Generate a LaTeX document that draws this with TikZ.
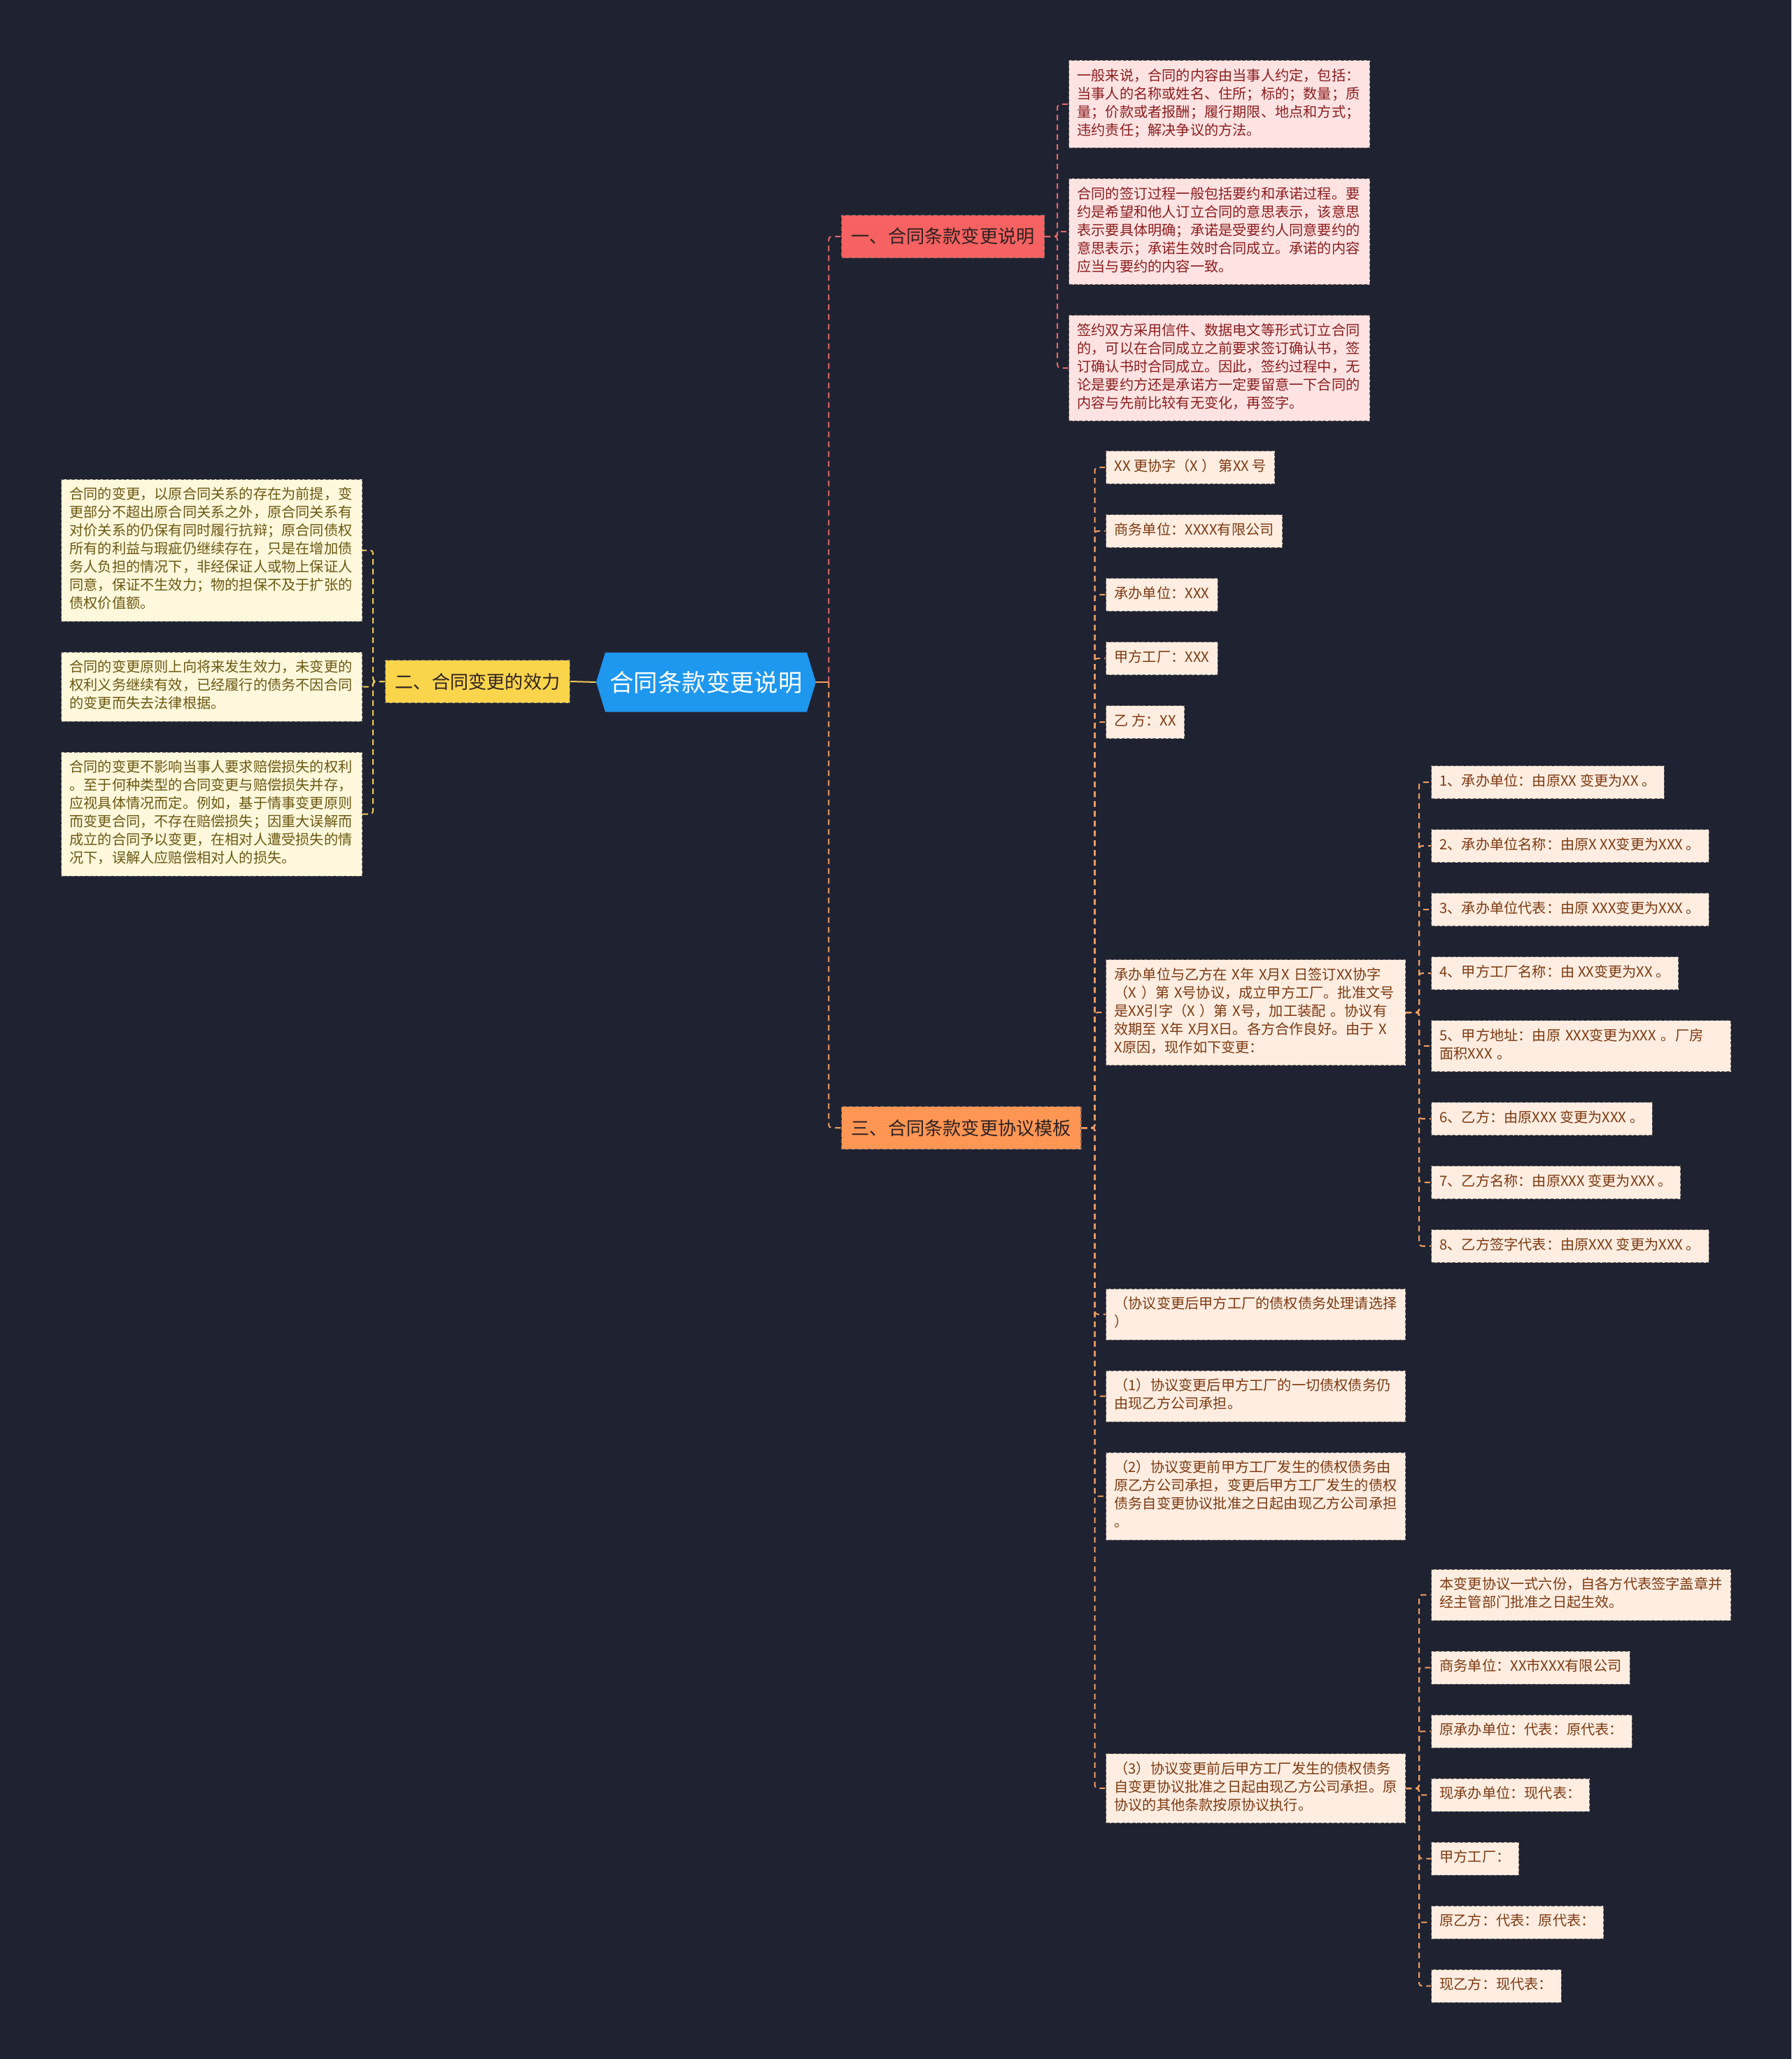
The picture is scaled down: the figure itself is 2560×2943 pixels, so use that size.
\documentclass[tikz,border=0pt]{standalone}
\usepackage{fontspec}
\setmainfont{Noto Sans CJK SC}
\usetikzlibrary{positioning,shapes.symbols}
\definecolor{bgnavy}{HTML}{1F2231}
\definecolor{rootblue}{HTML}{1E97EF}
\definecolor{topicred}{HTML}{F66161}
\definecolor{topicyel}{HTML}{FAD44B}
\definecolor{topicorg}{HTML}{FF9654}
\definecolor{topictxt}{HTML}{2E2222}
\definecolor{pinkfill}{HTML}{FFE3E3}
\definecolor{pinktxt}{HTML}{8B1E1E}
\definecolor{creamfill}{HTML}{FFF8DC}
\definecolor{creamtxt}{HTML}{6B5812}
\definecolor{peachfill}{HTML}{FFEDE1}
\definecolor{peachtxt}{HTML}{7C3A12}
\definecolor{edgegrey}{HTML}{6F6763}
\definecolor{linered}{HTML}{E36767}
\definecolor{lineyel}{HTML}{EFCB55}
\definecolor{lineorg}{HTML}{F2A061}

\begin{document}
\begin{tikzpicture}[x=0.5pt, y=-0.5pt,
  root/.style={signal, signal to=east and west, signal pointer angle=146, fill=rootblue, text=white, font=\fontsize{17.2}{20}\selectfont, minimum width=157pt, minimum height=42.5pt, inner sep=0pt},
  topic/.style={fill=#1, draw=edgegrey, dash pattern=on 3pt off 1.5pt, line width=0.6pt, text=topictxt, font=\fontsize{13.1}{16}\selectfont, inner xsep=7pt, inner ysep=0pt, minimum height=30.5pt},
  leaf/.style={draw=edgegrey, dash pattern=on 2.5pt off 1.2pt, line width=0.5pt, font=\fontsize{10.1}{13}\selectfont, align=left, inner xsep=6pt, inner ysep=5.25pt, execute at begin node=\strut, execute at end node=\strut},
  pinkleaf/.style={leaf, fill=pinkfill, text=pinktxt, text width=203pt},
  creamleaf/.style={leaf, fill=creamfill, text=creamtxt, text width=203pt},
  peachleaf/.style={leaf, fill=peachfill, text=peachtxt},
  wide/.style={text width=202pt},
  link/.style={#1, line width=1pt, dash pattern=on 4pt off 3pt, rounded corners=2pt},
  stub/.style={#1, line width=1pt},
  belowof/.style={below=21.5pt of #1.south west, anchor=north west}
]
\fill[bgnavy] (0,0) rectangle (2560,2943);
\useasboundingbox (0,0) rectangle (2560,2943);

\node[root] (root) at (1009,975) {合同条款变更说明};
\node[topic=topicred, anchor=west] (b1) at (1202,338) {一、合同条款变更说明};
\node[topic=topicyel, anchor=east] (b2) at (815,974) {二、合同变更的效力};
\node[topic=topicorg, anchor=west] (b3) at (1202,1612) {三、合同条款变更协议模板};

\node[pinkleaf, anchor=west] (p1) at (1527,149) {一般来说，合同的内容由当事人约定，包括：\\当事人的名称或姓名、住所；标的；数量；质\\量；价款或者报酬；履行期限、地点和方式；\\违约责任；解决争议的方法。};
\node[pinkleaf, belowof=p1] (p2) {合同的签订过程一般包括要约和承诺过程。要\\约是希望和他人订立合同的意思表示，该意思\\表示要具体明确；承诺是受要约人同意要约的\\意思表示；承诺生效时合同成立。承诺的内容\\应当与要约的内容一致。};
\node[pinkleaf, belowof=p2] (p3) {签约双方采用信件、数据电文等形式订立合同\\的，可以在合同成立之前要求签订确认书，签\\订确认书时合同成立。因此，签约过程中，无\\论是要约方还是承诺方一定要留意一下合同的\\内容与先前比较有无变化，再签字。};

\node[creamleaf, anchor=west] (y1) at (87,786.5) {合同的变更，以原合同关系的存在为前提，变\\更部分不超出原合同关系之外，原合同关系有\\对价关系的仍保有同时履行抗辩；原合同债权\\所有的利益与瑕疵仍继续存在，只是在增加债\\务人负担的情况下，非经保证人或物上保证人\\同意，保证不生效力；物的担保不及于扩张的\\债权价值额。};
\node[creamleaf, belowof=y1] (y2) {合同的变更原则上向将来发生效力，未变更的\\权利义务继续有效，已经履行的债务不因合同\\的变更而失去法律根据。};
\node[creamleaf, belowof=y2] (y3) {合同的变更不影响当事人要求赔偿损失的权利\\。至于何种类型的合同变更与赔偿损失并存，\\应视具体情况而定。例如，基于情事变更原则\\而变更合同，不存在赔偿损失；因重大误解而\\成立的合同予以变更，在相对人遭受损失的情\\况下，误解人应赔偿相对人的损失。};

\node[peachleaf, anchor=west] (q1) at (1580,668) {XX 更协字（X ） 第XX 号};
\node[peachleaf, belowof=q1] (q2) {商务单位：XXXX有限公司};
\node[peachleaf, belowof=q2] (q3) {承办单位：XXX};
\node[peachleaf, belowof=q3] (q4) {甲方工厂：XXX};
\node[peachleaf, belowof=q4] (q5) {乙 方：XX};
\node[peachleaf, wide, anchor=west] (q6) at (1580,1447) {承办单位与乙方在~X年~X月X~日签订XX协字\\（X~）第~X号协议，成立甲方工厂。批准文号\\是XX引字（X~）第~X号，加工装配~。协议有\\效期至~X年~X月X日。各方合作良好。由于~X\\X原因，现作如下变更：};
\node[peachleaf, wide, anchor=west] (q7) at (1580,1878.5) {（协议变更后甲方工厂的债权债务处理请选择\\）};
\node[peachleaf, wide, belowof=q7] (q8) {（1）协议变更后甲方工厂的一切债权债务仍\\由现乙方公司承担。};
\node[peachleaf, wide, belowof=q8] (q9) {（2）协议变更前甲方工厂发生的债权债务由\\原乙方公司承担，变更后甲方工厂发生的债权\\债务自变更协议批准之日起由现乙方公司承担\\。};
\node[peachleaf, wide, anchor=west] (q10) at (1580,2556) {（3）协议变更前后甲方工厂发生的债权债务\\自变更协议批准之日起由现乙方公司承担。原\\协议的其他条款按原协议执行。};

\node[peachleaf, anchor=west] (c1) at (2045,1118) {1、承办单位：由原XX 变更为XX 。};
\node[peachleaf, belowof=c1] (c2) {2、承办单位名称：由原X XX变更为XXX 。};
\node[peachleaf, belowof=c2] (c3) {3、承办单位代表：由原 XXX变更为XXX 。};
\node[peachleaf, belowof=c3] (c4) {4、甲方工厂名称：由 XX变更为XX 。};
\node[peachleaf, wide, belowof=c4] (c5) {5、甲方地址：由原~XXX变更为XXX~。厂房\\面积XXX~。};
\node[peachleaf, belowof=c5] (c6) {6、乙方：由原XXX 变更为XXX 。};
\node[peachleaf, belowof=c6] (c7) {7、乙方名称：由原XXX 变更为XXX 。};
\node[peachleaf, belowof=c7] (c8) {8、乙方签字代表：由原XXX 变更为XXX 。};

\node[peachleaf, wide, anchor=west] (d1) at (2045,2279.5) {本变更协议一式六份，自各方代表签字盖章并\\经主管部门批准之日起生效。};
\node[peachleaf, belowof=d1] (d2) {商务单位：XX市XXX有限公司};
\node[peachleaf, belowof=d2] (d3) {原承办单位：代表：原代表：};
\node[peachleaf, belowof=d3] (d4) {现承办单位：现代表：};
\node[peachleaf, belowof=d4] (d5) {甲方工厂：};
\node[peachleaf, belowof=d5] (d6) {原乙方：代表：原代表：};
\node[peachleaf, belowof=d6] (d7) {现乙方：现代表：};

\coordinate (jr) at ([xshift=9pt]root.east);
\draw[stub=lineyel] (root.west) -- (b2.east);
\draw[stub=lineorg] (root.east) -- (jr);
\draw[link=linered] (jr) |- (b1.west); \draw[link=lineorg] (jr) |- (b3.west);
\foreach \n in {p1,p2,p3} \draw[link=linered] (b1.east) -- ++(18,0) |- (\n.west);
\foreach \n in {y1,y2,y3} \draw[link=lineyel] (b2.west) -- ++(-17,0) |- (\n.east);
\foreach \n in {q1,q2,q3,q4,q5,q6,q7,q8,q9,q10} \draw[link=lineorg] (b3.east) -- ++(19,0) |- (\n.west);
\foreach \n in {c1,c2,c3,c4,c5,c6,c7,c8} \draw[link=lineorg] (q6.east) -- ++(19,0) |- (\n.west);
\foreach \n in {d1,d2,d3,d4,d5,d6,d7} \draw[link=lineorg] (q10.east) -- ++(19,0) |- (\n.west);
\end{tikzpicture}
\end{document}
